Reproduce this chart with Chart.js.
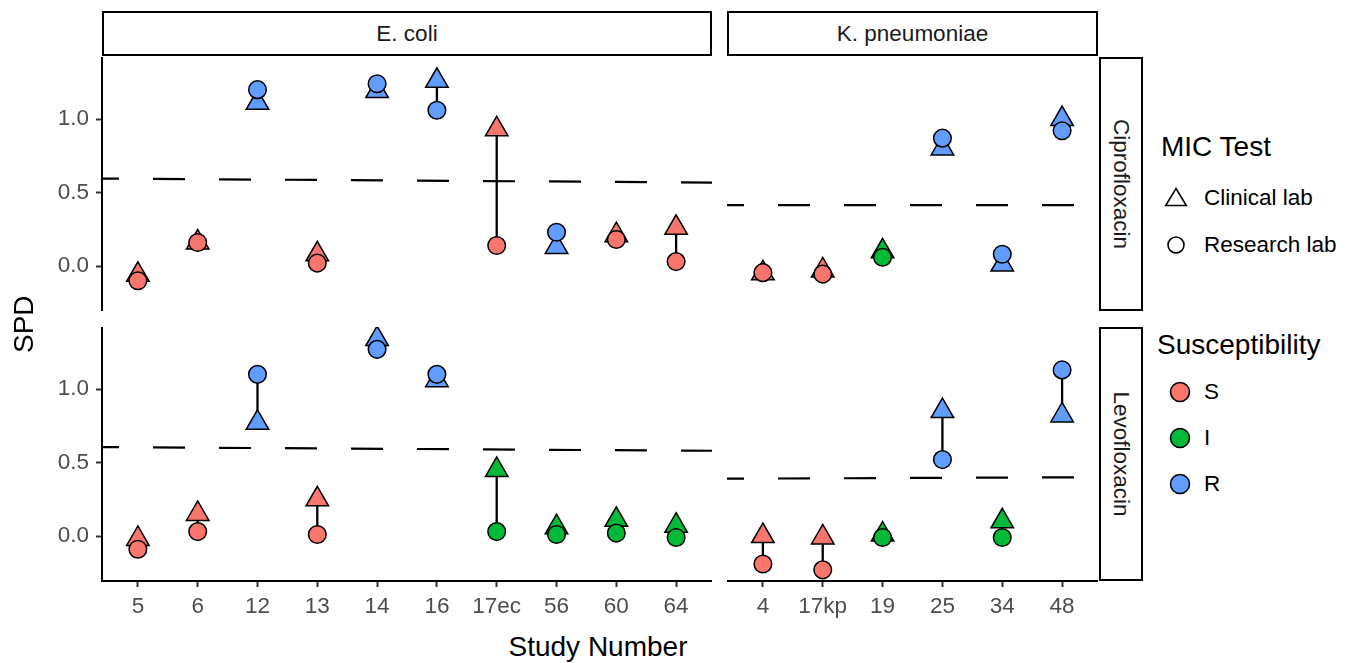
<!DOCTYPE html>
<html><head><meta charset="utf-8">
<script src="https://cdn.jsdelivr.net/npm/chart.js@4.4.0/dist/chart.umd.min.js"></script>
<style>
html,body{margin:0;padding:0;background:#fff;width:1347px;height:663px;overflow:hidden;font-family:"Liberation Sans",Arial,Helvetica,sans-serif;}
canvas{position:absolute;}
.strip{position:absolute;box-sizing:border-box;border:2.5px solid #000;background:#fff;color:#1a1a1a;font-size:22.5px;display:flex;align-items:center;justify-content:center;}
.strip span{white-space:nowrap;}
.vstrip span{transform:rotate(90deg);}
.t{position:absolute;white-space:nowrap;line-height:1;}
.title{font-size:28px;color:#000;}
.lt{font-size:22.5px;color:#000;}
</style>
</head><body>
<canvas id="tl" width="712" height="254" style="left:0;top:57px"></canvas>
<canvas id="bl" width="712" height="294" style="left:0;top:327px"></canvas>
<canvas id="tr" width="371" height="254" style="left:727px;top:57px"></canvas>
<canvas id="br" width="371" height="294" style="left:727px;top:327px"></canvas>

<div class="strip" style="left:102px;top:11px;width:610px;height:45px"><span>E. coli</span></div>
<div class="strip" style="left:727px;top:11px;width:371px;height:45px"><span>K. pneumoniae</span></div>
<div class="strip vstrip" style="left:1099px;top:57px;width:44px;height:254px"><span>Ciprofloxacin</span></div>
<div class="strip vstrip" style="left:1099px;top:327px;width:44px;height:254px"><span>Levofloxacin</span></div>

<div class="t title" style="left:2px;top:317px;width:44px;height:28px;text-align:center;transform:rotate(-90deg);">SPD</div>
<div class="t title" style="left:398px;top:633px;width:400px;text-align:center;">Study Number</div>

<div class="t title" style="left:1161px;top:133px;">MIC Test</div>
<div class="t lt" style="left:1204px;top:187px;">Clinical lab</div>
<div class="t lt" style="left:1204px;top:234px;">Research lab</div>
<div class="t title" style="left:1157px;top:331px;">Susceptibility</div>
<div class="t lt" style="left:1204px;top:381px;">S</div>
<div class="t lt" style="left:1204px;top:427px;">I</div>
<div class="t lt" style="left:1204px;top:473px;">R</div>
<svg style="position:absolute;left:1150px;top:170px" width="60" height="340" viewBox="1150 170 60 340">
  <polygon points="1176,188.5 1186.3,205.5 1165.7,205.5" fill="none" stroke="#000" stroke-width="1.6"/>
  <circle cx="1176" cy="245" r="8" fill="none" stroke="#000" stroke-width="1.6"/>
  <circle cx="1180" cy="392" r="9.5" fill="#F8766D" stroke="#000" stroke-width="1.6"/>
  <circle cx="1180" cy="438" r="9.5" fill="#00BA38" stroke="#000" stroke-width="1.6"/>
  <circle cx="1180" cy="484" r="9.5" fill="#619CFF" stroke="#000" stroke-width="1.6"/>
</svg>

<script>
// ---- data ----
const ecoliStudies = ['5','6','12','13','14','16','17ec','56','60','64'];
const kpnStudies = ['4','17kp','19','25','34','48'];

const ecoliCiproSusc = ['S','S','R','S','R','R','S','R','S','S'];
const ecoliLevoSusc  = ['S','S','R','S','R','R','I','I','I','I'];
const kpnCiproSusc   = ['S','S','I','R','R','R'];
const kpnLevoSusc    = ['S','S','I','R','I','R'];

const ecoliCiproClinical = [-0.06, 0.16, 1.11, 0.08, 1.19, 1.26, 0.93, 0.13, 0.21, 0.26];
const ecoliCiproResearch = [-0.10, 0.16, 1.20, 0.02, 1.24, 1.06, 0.14, 0.23, 0.18, 0.03];
const ecoliLevoClinical  = [-0.02, 0.15, 0.77, 0.25, 1.34, 1.06, 0.45, 0.06, 0.11, 0.07];
const ecoliLevoResearch  = [-0.09, 0.03, 1.10, 0.01, 1.27, 1.10, 0.03, 0.01, 0.02, -0.01];

const kpnCiproClinical = [-0.05, -0.03, 0.10, 0.80, 0.01, 1.00];
const kpnCiproResearch = [-0.045, -0.055, 0.06, 0.87, 0.08, 0.92];
const kpnLevoClinical  = [0.00, -0.01, 0.01, 0.85, 0.10, 0.82];
const kpnLevoResearch  = [-0.19, -0.23, -0.01, 0.52, -0.01, 1.13];

// reference (dashed) line value at left and right panel edge
const ecoliCiproRef = [0.595, 0.568];
const ecoliLevoRef  = [0.605, 0.580];
const kpnCiproRef   = [0.414, 0.414];
const kpnLevoRef    = [0.390, 0.400];

const yTicks = [0, 0.5, 1.0];
const yMin = -0.306, yMax = 1.422;
const suscColors = {S:'#F8766D', I:'#00BA38', R:'#619CFF'};

// ---- drawing ----
const FONT = '"Liberation Sans", Arial, Helvetica, sans-serif';

function makePanel(id, cats, susc, clin, res, ref, showY, showX) {
  const n = cats.length;
  const seg = [];
  cats.forEach((c, i) => { seg.push({x: i + 1, y: clin[i]}, {x: i + 1, y: res[i]}, {x: i + 1, y: null}); });
  const fills = susc.map(s => suscColors[s]);
  new Chart(document.getElementById(id), {
    type: 'scatter',
    data: { datasets: [
      { label: 'Research lab', data: res.map((v, i) => ({x: i + 1, y: v})),
        pointStyle: 'circle', pointRadius: 8.8, pointHoverRadius: 8.8,
        pointBackgroundColor: fills, pointBorderColor: '#000', pointBorderWidth: 1.5, order: 0 },
      { label: 'Clinical lab', data: clin.map((v, i) => ({x: i + 1, y: v})),
        pointStyle: 'triangle', pointRadius: 13, pointHoverRadius: 13,
        pointBackgroundColor: fills, pointBorderColor: '#000', pointBorderWidth: 1.5, order: 1 },
      { type: 'line', data: seg, borderColor: '#000', borderWidth: 2.3, pointRadius: 0, pointHoverRadius: 0,
        spanGaps: false, fill: false, tension: 0, order: 2 },
      { type: 'line', data: [{x: 0.4, y: ref[0]}, {x: n + 0.6, y: ref[1]}], borderColor: '#000', borderWidth: 2.2,
        borderDash: [32, 34], borderDashOffset: 15, pointRadius: 0, pointHoverRadius: 0, fill: false, order: 3 }
    ]},
    options: {
      responsive: false, maintainAspectRatio: false, animation: false, events: [],
      layout: { padding: 0, autoPadding: false },
      plugins: { legend: { display: false }, tooltip: { enabled: false } },
      scales: {
        x: {
          type: 'linear', min: 0.4, max: n + 0.6, display: showX,
          afterBuildTicks: s => { s.ticks = cats.map((c, i) => ({value: i + 1})); },
          afterFit: s => { s.height = showX ? 40 : 0; s.paddingLeft = 0; s.paddingRight = 0; },
          ticks: { color: '#4d4d4d', font: {family: FONT, size: 22.5}, padding: 6, autoSkip: false, maxRotation: 0,
                   callback: v => cats[Math.round(v) - 1] },
          grid: { display: true, drawOnChartArea: false, drawTicks: true, tickLength: 6, tickWidth: 2, color: '#333333' },
          border: { display: true, color: '#000', width: 2 }
        },
        y: {
          type: 'linear', min: yMin, max: yMax, display: showY,
          afterBuildTicks: s => { s.ticks = yTicks.map(v => ({value: v})); },
          afterFit: s => { s.width = showY ? 102 : 0; s.paddingTop = 0; s.paddingBottom = 0; },
          ticks: { color: '#4d4d4d', font: {family: FONT, size: 22.5}, padding: 7, callback: v => v.toFixed(1) },
          grid: { display: true, drawOnChartArea: false, drawTicks: true, tickLength: 6, tickWidth: 2, color: '#333333' },
          border: { display: true, color: '#000', width: 2 }
        }
      }
    }
  });
}

makePanel('tl', ecoliStudies, ecoliCiproSusc, ecoliCiproClinical, ecoliCiproResearch, ecoliCiproRef, true, false);
makePanel('bl', ecoliStudies, ecoliLevoSusc, ecoliLevoClinical, ecoliLevoResearch, ecoliLevoRef, true, true);
makePanel('tr', kpnStudies, kpnCiproSusc, kpnCiproClinical, kpnCiproResearch, kpnCiproRef, false, false);
makePanel('br', kpnStudies, kpnLevoSusc, kpnLevoClinical, kpnLevoResearch, kpnLevoRef, false, true);
</script>
</body></html>
